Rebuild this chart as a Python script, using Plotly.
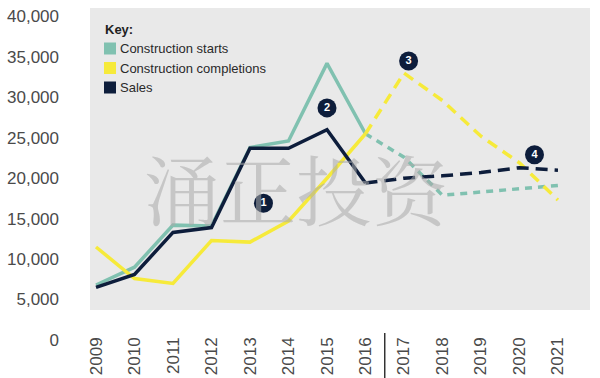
import plotly.graph_objects as go

years = list(range(2009, 2022))
year_labels = [str(y) for y in years]

# Actual (2009-2016) and forecast (2016-2021)
starts_actual = [6800, 9000, 14200, 14100, 23800, 24600, 34200, 25500]
starts_forecast = [25500, 22600, 17900, 18300, 18700, 19100]
completions_actual = [11500, 7600, 7000, 12300, 12100, 14700, 20000, 25500]
completions_forecast = [25500, 33000, 29600, 25200, 21900, 17300]
sales_actual = [6500, 8100, 13300, 13900, 23700, 23700, 26000, 19400]
sales_forecast = [19400, 20000, 20300, 20700, 21300, 21000]

actual_years = years[:8]
forecast_years = years[7:]

series_names = ["Construction starts", "Construction completions", "Sales"]
series_colors = ["#80c1b0", "#f6ea3a", "#0d1d3b"]

callout_labels = ["1", "2", "3", "4"]
callout_x = [2013.35, 2015.0, 2017.12, 2020.39]
callout_y = [16900, 28700, 34500, 22900]

y_ticks = [0, 5000, 10000, 15000, 20000, 25000, 30000, 35000, 40000]
y_tick_labels = ["0", "5,000", "10,000", "15,000", "20,000", "25,000", "30,000", "35,000", "40,000"]

fig = go.Figure()

actual = [starts_actual, completions_actual, sales_actual]
forecast = [starts_forecast, completions_forecast, sales_forecast]
dashes = ["7px,6px", "11px,7px", "12px,7px"]

for name, col, a, f, d in zip(series_names, series_colors, actual, forecast, dashes):
    fig.add_trace(go.Scatter(x=actual_years, y=a, mode="lines", name=name,
                             line=dict(color=col, width=3.5), showlegend=False,
                             hoverinfo="skip"))
    fig.add_trace(go.Scatter(x=forecast_years, y=f, mode="lines", name=name + " (forecast)",
                             line=dict(color=col, width=3.5, dash=d), showlegend=False,
                             hoverinfo="skip"))

fig.add_trace(go.Scatter(x=callout_x, y=callout_y, mode="markers+text",
                         text=["<b>%s</b>" % t for t in callout_labels],
                         textposition="middle center",
                         textfont=dict(color="white", size=11, family="Liberation Sans"),
                         marker=dict(size=19, color="#0d1d3b"),
                         showlegend=False, hoverinfo="skip"))

# plot area geometry (pixels) for converting legend/shapes to paper coords
L, R, T, B = 90, 590, 8, 342
W, H = R - L, B - T

def px(x):
    return (x - L) / W

def py(y):
    return (B - y) / H

shapes = [
    # grey panel
    dict(type="rect", xref="paper", yref="y", x0=0, x1=1, y0=3700, y1=41050,
         fillcolor="#e9e9e9", line=dict(width=0), layer="below"),
    # separator between actual and forecast
    dict(type="line", xref="x", yref="paper", x0=2016.5, x1=2016.5,
         y0=py(333), y1=py(378), line=dict(color="#333333", width=1.5)),
]

annotations = [
    dict(text="涌正投资", xref="paper", yref="paper", x=px(297), y=py(187),
         showarrow=False, font=dict(size=76, color="rgba(170,170,170,0.55)",
                                    family="Noto Serif CJK SC, Noto Sans CJK SC"),
         xanchor="center", yanchor="middle"),
    dict(text="<b>Key:</b>", xref="paper", yref="paper", x=px(103), y=py(29),
         showarrow=False, xanchor="left", yanchor="middle",
         font=dict(size=13, color="#222222", family="Liberation Sans")),
]

row_y = [48.5, 68, 87.5]
for name, col, ry in zip(series_names, series_colors, row_y):
    shapes.append(dict(type="rect", xref="paper", yref="paper",
                       x0=px(104), x1=px(116), y0=py(ry + 6), y1=py(ry - 6),
                       fillcolor=col, line=dict(width=0)))
    annotations.append(dict(text=name, xref="paper", yref="paper", x=px(118), y=py(ry),
                            showarrow=False, xanchor="left", yanchor="middle",
                            font=dict(size=13, color="#2a2a2a", family="Liberation Sans")))

fig.update_layout(
    width=600, height=378,
    margin=dict(l=L, r=600 - R, t=T, b=378 - B, autoexpand=False),
    paper_bgcolor="white", plot_bgcolor="white",
    shapes=shapes, annotations=annotations,
    showlegend=False,
    xaxis=dict(range=[2008.844, 2021.832], tickmode="array", tickvals=years,
               ticktext=year_labels, tickangle=-90, showgrid=False, zeroline=False,
               showline=False, ticks="", automargin=False, ticklabelstandoff=-9,
               tickfont=dict(size=17, color="#4a4a4a", family="Liberation Sans")),
    yaxis=dict(range=[-250, 41050], tickmode="array", tickvals=y_ticks,
               ticktext=y_tick_labels, showgrid=False, zeroline=False, showline=False,
               ticks="", ticklabelstandoff=30, automargin=False,
               tickfont=dict(size=17, color="#4a4a4a", family="Liberation Sans")),
)

fig.write_html("out.html", config={"displayModeBar": False},
               post_script="document.body.style.margin='0px';document.body.style.overflow='hidden';")
